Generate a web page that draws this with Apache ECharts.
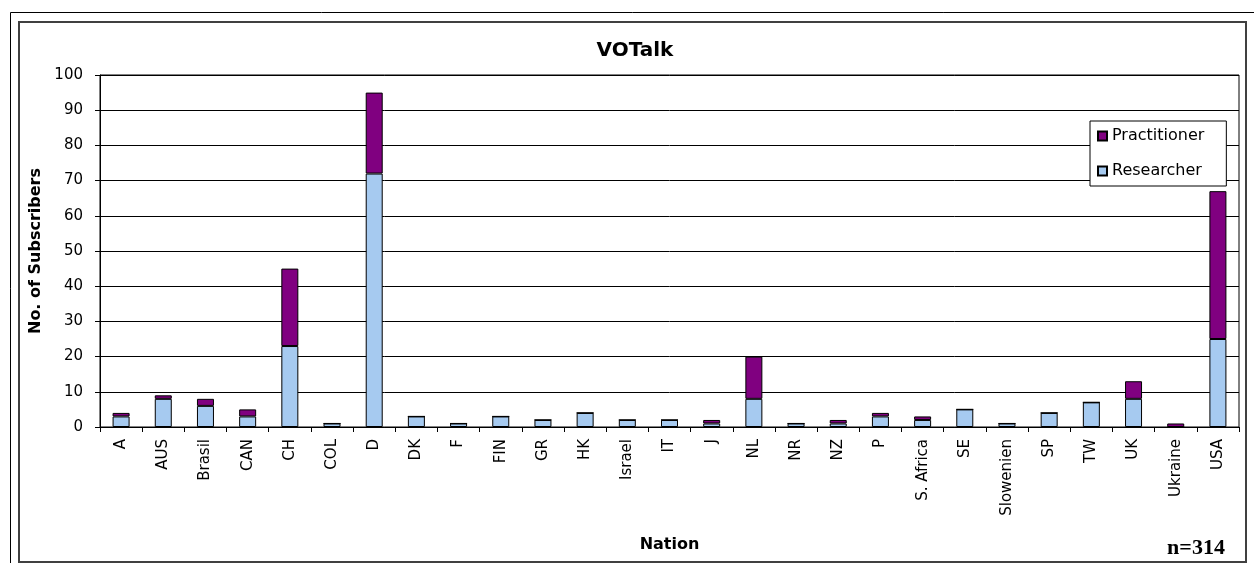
<!DOCTYPE html>
<html>
<head>
<meta charset="utf-8">
<script src="https://cdn.jsdelivr.net/npm/echarts@6/dist/echarts.min.js"></script>
<style>
html,body{margin:0;padding:0;background:#fff;}
#chart{width:1254px;height:563px;}
</style>
</head>
<body>
<div id="chart"></div>
<script>
const nations = ['A','AUS','Brasil','CAN','CH','COL','D','DK','F','FIN','GR','HK','Israel','IT','J','NL','NR','NZ','P','S. Africa','SE','Slowenien','SP','TW','UK','Ukraine','USA'];
const researcher = [3,8,6,3,23,1,72,3,1,3,2,4,2,2,1,8,1,1,3,2,5,1,4,7,8,0,25];
const practitioner = [1,1,2,2,22,0,23,0,0,0,0,0,0,0,1,12,0,1,1,1,0,0,0,0,5,1,42];
const yMin = 0, yMax = 100, yStep = 10;
const titleText = 'VOTalk';
const noteText = 'n=314';

const FONT = 'DejaVu Sans';
const chart = echarts.init(document.getElementById('chart'), null, {renderer:'canvas'});
chart.setOption({
  animation: false,
  backgroundColor: '#fff',
  grid: {left: 100, top: 75, right: 15, bottom: 136, show: true, borderColor: '#000', borderWidth: 1, backgroundColor: 'transparent'},
  legend: {
    orient: 'vertical',
    left: 1090, top: 121,
    data: ['Practitioner','Researcher'],
    backgroundColor: '#fff',
    borderColor: '#000', borderWidth: 1,
    padding: [7, 22, 7, 7],
    itemWidth: 9, itemHeight: 9, itemGap: 19,
    icon: 'rect',
    textStyle: {fontFamily: FONT, fontSize: 16, color: '#000'}
  },
  xAxis: {
    type: 'category',
    data: nations,
    name: 'Nation',
    nameLocation: 'middle',
    nameGap: 110,
    nameTextStyle: {fontFamily: FONT, fontSize: 16, fontWeight: 'bold', color: '#000', verticalAlign: 'top'},
    axisLine: {lineStyle: {color: '#000', width: 1}},
    axisTick: {show: true, length: 5, lineStyle: {color: '#000'}},
    axisLabel: {rotate: 90, margin: 12, fontFamily: FONT, fontSize: 15, color: '#000', interval: 0},
    splitLine: {show: false}
  },
  yAxis: {
    type: 'value',
    min: yMin, max: yMax, interval: yStep,
    name: 'No. of Subscribers',
    nameLocation: 'middle',
    nameGap: 55,
    nameRotate: 90,
    nameTextStyle: {fontFamily: FONT, fontSize: 16, fontWeight: 'bold', color: '#000'},
    axisLine: {show: true, lineStyle: {color: '#000', width: 1}},
    axisTick: {show: true, length: 5, lineStyle: {color: '#000'}},
    axisLabel: {margin: 17, fontFamily: FONT, fontSize: 15, color: '#000'},
    splitLine: {show: true, lineStyle: {color: '#000', width: 1}}
  },
  series: [
    {name: 'Researcher', type: 'bar', stack: 'total', data: researcher, barWidth: 17,
     itemStyle: {color: '#A6CAF0', borderColor: '#000', borderWidth: 1}},
    {name: 'Practitioner', type: 'bar', stack: 'total', data: practitioner, barWidth: 17,
     itemStyle: {color: '#800080', borderColor: '#000', borderWidth: 1}}
  ],
  graphic: [
    {type: 'rect', silent: true, z: -10, shape: {x: 10.5, y: 12.5, width: 1300, height: 600}, style: {fill: null, stroke: '#000', lineWidth: 1}},
    {type: 'rect', silent: true, z: -9, shape: {x: 19, y: 22, width: 1227, height: 540}, style: {fill: null, stroke: '#404040', lineWidth: 2}},
    {type: 'text', x: 635, y: 51, style: {text: titleText, textAlign: 'center', textVerticalAlign: 'middle', font: 'bold 20px "DejaVu Sans"', fill: '#000'}},
    {type: 'text', x: 1196, y: 548, style: {text: noteText, textAlign: 'center', textVerticalAlign: 'middle', font: 'bold 22px "Liberation Serif"', fill: '#000'}}
  ]
});
</script>
</body>
</html>
